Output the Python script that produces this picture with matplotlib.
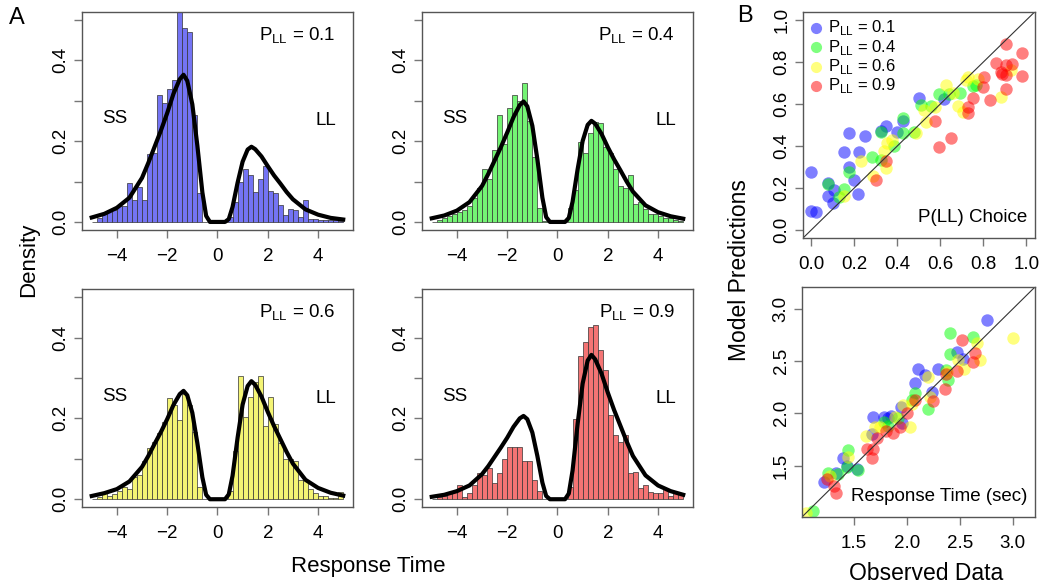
import numpy as np
import matplotlib
matplotlib.use('Agg')
import matplotlib.pyplot as plt

plt.rcParams['font.family'] = ['Liberation Sans', 'DejaVu Sans']
plt.rcParams['axes.unicode_minus'] = True

# histogram bins (width 0.2 from -5 to 5) and bar heights
bin_edges = np.linspace(-5, 5, 51)
hist_p01 = [0, 0.01, 0.02, 0.03, 0.03, 0.04, 0.04, 0.097, 0.055, 0.087, 0.055, 0.168, 0.17, 0.313, 0.295,
            0.33, 0.35, 0.52, 0.48, 0.47, 0.265, 0.072, 0, 0, 0, 0, 0, 0.012, 0.05, 0.10, 0.13, 0.115, 0.075,
            0.107, 0.138, 0.076, 0.072, 0.041, 0.017, 0.033, 0.030, 0.012, 0.054, 0.007, 0.007, 0.005, 0.005,
            0.005, 0.004, 0.003]
hist_p04 = [0, 0.005, 0.01, 0.015, 0.02, 0.025, 0.03, 0.04, 0.06, 0.083, 0.132, 0.107, 0.178, 0.265, 0.193,
            0.283, 0.313, 0.30, 0.343, 0.25, 0.16, 0.035, 0.003, 0, 0, 0, 0, 0.035, 0.08, 0.198, 0.17, 0.22,
            0.248, 0.245, 0.186, 0.17, 0.132, 0.09, 0.083, 0.115, 0.045, 0.05, 0.033, 0.02, 0.02, 0.015, 0.01,
            0.01, 0.005, 0.003]
hist_p06 = [0, 0.005, 0.015, 0.008, 0.012, 0.02, 0.03, 0.025, 0.055, 0.06, 0.095, 0.126, 0.142, 0.165, 0.19,
            0.25, 0.233, 0.195, 0.26, 0.233, 0.167, 0.03, 0, 0, 0, 0, 0, 0.02, 0.12, 0.306, 0.204, 0.253, 0.29,
            0.306, 0.18, 0.253, 0.187, 0.138, 0.1, 0.1, 0.095, 0.048, 0.048, 0.025, 0.016, 0.007, 0.007, 0.004,
            0.003, 0.017]
hist_p09 = [0, 0.005, 0.008, 0.015, 0.02, 0.035, 0.005, 0.015, 0.035, 0.066, 0.06, 0.076, 0.04, 0.066, 0.099,
            0.13, 0.13, 0.13, 0.095, 0.095, 0.048, 0.02, 0, 0, 0, 0, 0, 0.03, 0.198, 0.354, 0.39, 0.427, 0.43,
            0.37, 0.32, 0.208, 0.16, 0.142, 0.16, 0.064, 0.068, 0.027, 0.035, 0.019, 0.016, 0.016, 0.027,
            0.007, 0.016, 0.016]

# model density curves
curve_x = [-5, -4.5, -4, -3.5, -3, -2.75, -2.5, -2.25, -2, -1.75, -1.5, -1.35, -1.2, -1, -0.8, -0.6, -0.45,
           -0.3, 0, 0.3, 0.45, 0.6, 0.8, 1, 1.2, 1.35, 1.5, 1.75, 2, 2.25, 2.5, 2.75, 3, 3.5, 4, 4.5, 5]
curve_p01 = [0.011, 0.020, 0.035, 0.060, 0.109, 0.146, 0.186, 0.226, 0.269, 0.317, 0.353, 0.364, 0.349, 0.291,
             0.189, 0.073, 0.015, 0, 0, 0, 0.007, 0.037, 0.097, 0.149, 0.179, 0.186, 0.180, 0.162, 0.138,
             0.115, 0.095, 0.074, 0.056, 0.031, 0.018, 0.010, 0.006]
curve_p04 = [0.009, 0.016, 0.028, 0.049, 0.089, 0.119, 0.152, 0.185, 0.221, 0.259, 0.289, 0.298, 0.286, 0.238,
             0.155, 0.060, 0.012, 0, 0, 0, 0.010, 0.050, 0.130, 0.200, 0.240, 0.250, 0.243, 0.218, 0.185,
             0.155, 0.128, 0.100, 0.075, 0.041, 0.024, 0.014, 0.008]
curve_p06 = [0.008, 0.015, 0.025, 0.044, 0.080, 0.107, 0.137, 0.166, 0.198, 0.233, 0.260, 0.268, 0.257, 0.214,
             0.139, 0.054, 0.011, 0, 0, 0, 0.012, 0.058, 0.152, 0.234, 0.280, 0.292, 0.283, 0.254, 0.216,
             0.181, 0.149, 0.117, 0.088, 0.048, 0.028, 0.016, 0.009]
curve_p09 = [0.006, 0.011, 0.020, 0.034, 0.062, 0.082, 0.105, 0.128, 0.152, 0.179, 0.200, 0.206, 0.198, 0.165,
             0.107, 0.041, 0.008, 0, 0, 0, 0.014, 0.071, 0.186, 0.286, 0.343, 0.357, 0.346, 0.311, 0.264,
             0.221, 0.182, 0.143, 0.107, 0.059, 0.034, 0.020, 0.011]

# panel B: P(LL) choice, observed vs predicted
choice_obs_p01 = [0.00, 0.0, 0.023, 0.076, 0.076, 0.107, 0.101, 0.173, 0.151, 0.173, 0.20, 0.215, 0.224, 0.25,
                  0.326, 0.349, 0.40, 0.427, 0.502, 0.618]
choice_pred_p01 = [0.275, 0.092, 0.087, 0.224, 0.162, 0.19, 0.13, 0.463, 0.37, 0.298, 0.238, 0.171, 0.373,
                   0.449, 0.473, 0.495, 0.468, 0.521, 0.629, 0.622]
choice_obs_p04 = [0.076, 0.151, 0.128, 0.173, 0.28, 0.326, 0.326, 0.385, 0.427, 0.427, 0.478, 0.509, 0.556,
                  0.595, 0.642, 0.693, 0.751, 0.768]
choice_pred_p04 = [0.221, 0.194, 0.159, 0.276, 0.349, 0.465, 0.333, 0.40, 0.463, 0.532, 0.465, 0.595, 0.59,
                   0.646, 0.65, 0.654, 0.686, 0.689]
choice_obs_p06 = [0.151, 0.232, 0.288, 0.338, 0.354, 0.377, 0.349, 0.486, 0.525, 0.533, 0.575, 0.626, 0.657,
                  0.681, 0.704, 0.72, 0.73, 0.777, 0.88, 0.93]
choice_pred_p06 = [0.162, 0.33, 0.257, 0.378, 0.413, 0.428, 0.294, 0.463, 0.571, 0.516, 0.587, 0.69, 0.654,
                   0.59, 0.563, 0.714, 0.727, 0.719, 0.632, 0.762]
choice_obs_p09 = [0.299, 0.349, 0.575, 0.595, 0.65, 0.727, 0.73, 0.754, 0.805, 0.80, 0.829, 0.857, 0.88, 0.886,
                  0.907, 0.907, 0.907, 0.907, 0.933, 0.981, 0.981]
choice_pred_p09 = [0.238, 0.329, 0.521, 0.397, 0.437, 0.584, 0.556, 0.63, 0.73, 0.679, 0.619, 0.797, 0.754,
                   0.743, 0.884, 0.786, 0.738, 0.671, 0.79, 0.841, 0.733]

# panel B: response time (sec)
rt_obs_p01 = [1.219, 1.330, 1.393, 1.431, 1.525, 1.667, 1.676, 1.784, 1.825, 1.847, 1.941, 1.951, 2.077, 2.108,
              2.171, 2.234, 2.297, 2.477, 2.534, 2.761]
rt_pred_p01 = [1.338, 1.433, 1.570, 1.497, 1.468, 1.802, 1.961, 1.961, 1.951, 1.973, 2.062, 1.904, 2.291, 2.428,
               2.364, 2.205, 2.428, 2.587, 2.523, 2.895]
rt_obs_p04 = [1.116, 1.257, 1.352, 1.446, 1.431, 1.541, 1.784, 1.825, 1.919, 2.045, 2.077, 2.203, 2.370, 2.392,
              2.408, 2.408, 2.622]
rt_pred_p04 = [1.061, 1.427, 1.421, 1.649, 1.490, 1.459, 1.919, 1.878, 1.951, 2.126, 2.190, 2.040, 2.412, 2.317,
               2.571, 2.768, 2.730]
rt_obs_p06 = [1.046, 1.273, 1.446, 1.613, 1.699, 1.746, 1.888, 1.966, 2.029, 2.045, 2.203, 2.218, 2.376, 2.486,
              2.543, 2.666, 2.691, 3.0]
rt_pred_p06 = [1.046, 1.395, 1.586, 1.783, 1.865, 1.865, 1.967, 2.078, 1.872, 2.088, 2.348, 2.158, 2.396, 2.507,
               2.421, 2.673, 2.507, 2.723]
rt_obs_p09 = [1.242, 1.311, 1.330, 1.620, 1.683, 1.667, 1.721, 1.803, 1.866, 1.935, 1.998, 2.077, 2.250, 2.360,
              2.370, 2.471, 2.524, 2.622, 2.644]
rt_pred_p09 = [1.370, 1.300, 1.236, 1.662, 1.662, 1.570, 1.761, 1.830, 1.808, 1.865, 2.005, 2.126, 2.120, 2.237,
               2.380, 2.402, 2.698, 2.491, 2.580]

p_labels = ['0.1', '0.4', '0.6', '0.9']
bar_colors = ['#7474f4', '#74f474', '#f4f474', '#f47474']
dot_colors = ['#0000ff', '#00ff00', '#ffff00', '#ff0000']

box_col = '#555555'
tick_col = '#777777'
tick_fs = 13.5

fig = plt.figure(figsize=(10.43, 5.85), dpi=100)

hist_pos = [[0.0783, 0.6068, 0.2604, 0.3732], [0.4043, 0.6068, 0.2604, 0.3732],
            [0.0783, 0.1328, 0.2604, 0.3732], [0.4043, 0.1328, 0.2604, 0.3732]]
hists = [hist_p01, hist_p04, hist_p06, hist_p09]
curves = [curve_p01, curve_p04, curve_p06, curve_p09]


def style_axes(ax):
    for s in ax.spines.values():
        s.set_color(box_col)
        s.set_linewidth(1.0)
    ax.tick_params(direction='out', length=6, width=1, color=tick_col, labelsize=tick_fs)
    ax.tick_params(axis='x', pad=7)
    ax.tick_params(axis='y', pad=3)
    for lab in ax.get_yticklabels():
        lab.set_rotation(90)
        lab.set_va('center')


for i in range(4):
    ax = fig.add_axes(hist_pos[i])
    ax.bar(bin_edges[:-1], hists[i], width=0.2, align='edge', color=bar_colors[i],
           edgecolor='#333333', linewidth=0.5)
    ax.plot(curve_x, curves[i], color='black', lw=3, solid_joinstyle='round')
    ax.set_xlim(-5.4, 5.4)
    ax.set_ylim(-0.02, 0.52)
    ax.set_xticks([-4, -2, 0, 2, 4])
    ax.set_yticks([0, 0.1, 0.2, 0.3, 0.4, 0.5])
    ax.set_yticklabels(['0.0', '', '0.2', '', '0.4', ''])
    style_axes(ax)
    ax.text(0.933, 0.889, r'P$_{\mathregular{LL}}$ = ' + p_labels[i], transform=ax.transAxes,
            ha='right', va='center', fontsize=13.5)
    ax.text(-4.1, 0.255, 'SS', ha='center', va='center', fontsize=13.5)
    ax.text(4.33, 0.25, 'LL', ha='center', va='center', fontsize=13.5)

# choice scatter
ax = fig.add_axes([0.7696, 0.5926, 0.2227, 0.3875])
choice_obs = [choice_obs_p01, choice_obs_p04, choice_obs_p06, choice_obs_p09]
choice_pred = [choice_pred_p01, choice_pred_p04, choice_pred_p06, choice_pred_p09]
handles = []
for i in range(4):
    h = ax.scatter(choice_obs[i], choice_pred[i], s=80, color=dot_colors[i], alpha=0.5, linewidths=0,
                   label=r'P$_{\mathregular{LL}}$ = ' + p_labels[i])
    handles.append(h)
ax.plot([-0.04, 1.04], [-0.04, 1.04], color='#333333', lw=0.8)
ax.set_xlim(-0.04, 1.04)
ax.set_ylim(-0.04, 1.04)
ticks = [0, 0.2, 0.4, 0.6, 0.8, 1.0]
ax.set_xticks(ticks)
ax.set_yticks(ticks)
ax.set_xticklabels(['0.0', '0.2', '0.4', '0.6', '0.8', '1.0'])
ax.set_yticklabels(['0.0', '0.2', '0.4', '0.6', '0.8', '1.0'])
style_axes(ax)
ax.legend(handles=handles, loc='upper left', frameon=False, fontsize=12, handletextpad=0.3,
          labelspacing=0.02, borderaxespad=0.1, borderpad=0.3, handlelength=0.8, markerscale=0.9)
ax.text(0.966, 0.09, 'P(LL) Choice', transform=ax.transAxes, ha='right', va='center', fontsize=13.5)

# response time scatter
ax = fig.add_axes([0.7692, 0.1168, 0.2231, 0.3926])
rt_obs = [rt_obs_p01, rt_obs_p04, rt_obs_p06, rt_obs_p09]
rt_pred = [rt_pred_p01, rt_pred_p04, rt_pred_p06, rt_pred_p09]
for i in range(4):
    ax.scatter(rt_obs[i], rt_pred[i], s=80, color=dot_colors[i], alpha=0.5, linewidths=0)
ax.plot([1.01, 3.21], [1.01, 3.21], color='#333333', lw=0.8)
ax.set_xlim(1.01, 3.21)
ax.set_ylim(1.01, 3.21)
ticks = [1.5, 2.0, 2.5, 3.0]
ax.set_xticks(ticks)
ax.set_yticks(ticks)
ax.set_xticklabels(['1.5', '2.0', '2.5', '3.0'])
ax.set_yticklabels(['1.5', '2.0', '2.5', '3.0'])
style_axes(ax)
ax.text(0.969, 0.09, 'Response Time (sec)', transform=ax.transAxes, ha='right', va='center', fontsize=13.5)

fig.text(0.027, 0.556, 'Density', rotation=90, ha='center', va='center', fontsize=16)
fig.text(0.353, 0.032, 'Response Time', ha='center', va='center', fontsize=16)
fig.text(0.709, 0.538, 'Model Predictions', rotation=90, ha='center', va='center', fontsize=16.5)
fig.text(0.888, 0.0205, 'Observed Data', ha='center', va='center', fontsize=16.5)
fig.text(0.0163, 0.969, 'A', ha='center', va='center', fontsize=17)
fig.text(0.714, 0.973, 'B', ha='center', va='center', fontsize=17)

fig.savefig('out.png', dpi=100)
